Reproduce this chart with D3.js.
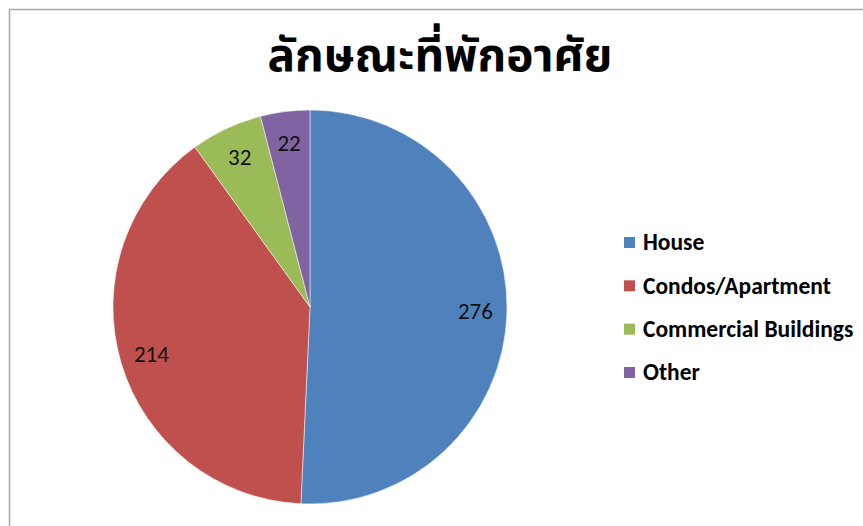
<!DOCTYPE html>
<html>
<head>
<meta charset="utf-8">
<script src="https://cdn.jsdelivr.net/npm/d3@7"></script>
<style>
  html, body { margin: 0; padding: 0; background: #fff; }
  svg { display: block; }
</style>
</head>
<body>
<svg id="chart" width="863" height="526"></svg>
<script>
// Housing type counts
const categories = ["House", "Condos/Apartment", "Commercial Buildings", "Other"];
const values = [276, 214, 32, 22];
const colors = ["#4F81BD", "#C0504D", "#9BBB59", "#8064A2"];
const title = "ลักษณะที่พักอาศัย";

const svg = d3.select("#chart");
const W = 863, H = 526;
const labelFont = "Carlito, Calibri, Lato, 'Open Sans', sans-serif";

// Chart area frame
svg.append("rect")
  .attr("x", 9.5).attr("y", 9.5)
  .attr("width", W).attr("height", H)
  .attr("fill", "#fff")
  .attr("stroke", "#a6a6a6")
  .attr("stroke-width", 1.5);

// Title
svg.append("text")
  .attr("x", 440).attr("y", 71)
  .attr("text-anchor", "middle")
  .attr("font-family", "'Noto Sans Thai', 'Noto Sans Thai UI', 'Noto Sans', sans-serif")
  .attr("font-weight", "bold")
  .attr("font-size", 46)
  .attr("fill", "#000")
  .text(title);

// Pie
const cx = 310, cy = 307, r = 197;
const data = categories.map((c, i) => ({ name: c, value: values[i], color: colors[i] }));
const pie = d3.pie().value(d => d.value).sort(null);
const arcs = pie(data);
const arc = d3.arc().innerRadius(0).outerRadius(r);
const labelArc = d3.arc().innerRadius(r * 0.84).outerRadius(r * 0.84);

const g = svg.append("g").attr("transform", `translate(${cx},${cy})`);
g.selectAll("path.slice")
  .data(arcs)
  .join("path")
  .attr("class", "slice")
  .attr("d", arc)
  .attr("fill", d => d.data.color)
  .attr("stroke", "#fff")
  .attr("stroke-width", 0.5);

g.selectAll("text.val")
  .data(arcs)
  .join("text")
  .attr("class", "val")
  .attr("transform", d => `translate(${labelArc.centroid(d)})`)
  .attr("text-anchor", "middle")
  .attr("dy", "0.35em")
  .attr("font-family", labelFont)
  .attr("font-size", 23)
  .attr("fill", "#111")
  .text(d => d.data.value);

// Legend
const legendY = d3.scalePoint().domain(categories).range([242, 372]);
const lg = svg.append("g");
const items = lg.selectAll("g.item")
  .data(data)
  .join("g")
  .attr("class", "item")
  .attr("transform", d => `translate(624,${legendY(d.name)})`);
items.append("rect")
  .attr("x", 0).attr("y", -5)
  .attr("width", 11).attr("height", 11)
  .attr("fill", d => d.color);
items.append("text")
  .attr("x", 19).attr("y", 0)
  .attr("dy", "0.35em")
  .attr("font-family", labelFont)
  .attr("font-size", 23.5)
  .attr("font-weight", 600)
  .attr("fill", "#000")
  .text(d => d.name);
</script>
</body>
</html>
